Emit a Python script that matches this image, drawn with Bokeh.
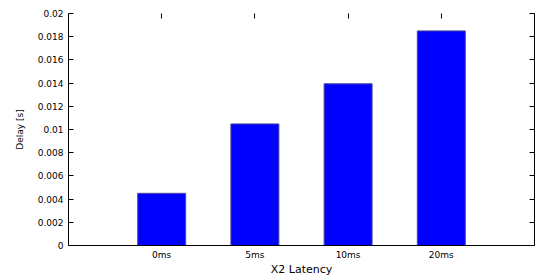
from bokeh.plotting import figure
from bokeh.models import Range1d, LinearAxis, FixedTicker
from bokeh.embed import file_html
from bokeh.resources import INLINE

categories = ["0ms", "5ms", "10ms", "20ms"]
delay = [0.0045, 0.01048, 0.01394, 0.01850]
y_ticks = [0, 0.002, 0.004, 0.006, 0.008, 0.01, 0.012, 0.014, 0.016, 0.018, 0.02]
y_tick_labels = ["0", "0.002", "0.004", "0.006", "0.008", "0.01", "0.012", "0.014", "0.016", "0.018", "0.02"]

FONT = "DejaVu Sans"

n = len(categories)
x_pos = list(range(1, n + 1))

p = figure(width=535, height=278, output_backend="svg", toolbar_location=None,
           x_range=Range1d(0, n + 1), y_range=Range1d(0, 0.02),
           min_border_left=68, min_border_right=1, min_border_top=13, min_border_bottom=30,
           x_axis_label="X2 Latency", y_axis_label="Delay [s]")
p.outline_line_color = None
p.grid.visible = False

p.vbar(x=x_pos, top=delay, width=0.515, fill_color="#0000ff", line_color="#4a4a9a", line_width=1)

# left axis
ya = p.yaxis[0]
ya.ticker = FixedTicker(ticks=y_ticks)
ya.major_label_overrides = {t: l for t, l in zip(y_ticks, y_tick_labels)}
ya.major_tick_in = 5
ya.major_tick_out = 0
ya.minor_tick_in = 0
ya.minor_tick_out = 0
ya.major_label_standoff = 5
ya.axis_label_standoff = 10
ya.major_label_text_font = FONT
ya.major_label_text_font_size = "9px"
ya.major_label_text_color = "black"
ya.axis_label_text_font = FONT
ya.axis_label_text_font_size = "9px"
ya.axis_label_text_font_style = "normal"
ya.axis_label_text_color = "black"
ya.axis_line_color = "black"
ya.major_tick_line_color = "black"

# bottom axis with category labels
xa = p.xaxis[0]
xa.ticker = FixedTicker(ticks=x_pos)
xa.major_label_overrides = {x: c for x, c in zip(x_pos, categories)}
xa.major_tick_in = 0
xa.major_tick_out = 0
xa.minor_tick_in = 0
xa.minor_tick_out = 0
xa.major_label_standoff = 4
xa.axis_label_standoff = 0
xa.major_label_text_font = FONT
xa.major_label_text_font_size = "9px"
xa.major_label_text_color = "black"
xa.axis_label_text_font = FONT
xa.axis_label_text_font_size = "11px"
xa.axis_label_text_font_style = "normal"
xa.axis_label_text_color = "black"
xa.axis_line_color = "black"

# right mirror axis (ticks only)
ra = LinearAxis(ticker=FixedTicker(ticks=y_ticks), major_tick_in=5, major_tick_out=0,
                minor_tick_in=0, minor_tick_out=0,
                major_label_overrides={t: "" for t in y_ticks},
                major_label_standoff=0, axis_line_color="black")
p.add_layout(ra, "right")

# top mirror ticks only
ta = LinearAxis(ticker=FixedTicker(ticks=x_pos),
                major_tick_in=5, major_tick_out=0, minor_tick_in=0, minor_tick_out=0,
                axis_line_alpha=0, major_label_overrides={x: "" for x in x_pos},
                major_label_standoff=0, major_tick_line_color="black")
p.add_layout(ta, "above")

open("out.html", "w").write(file_html(p, INLINE))
